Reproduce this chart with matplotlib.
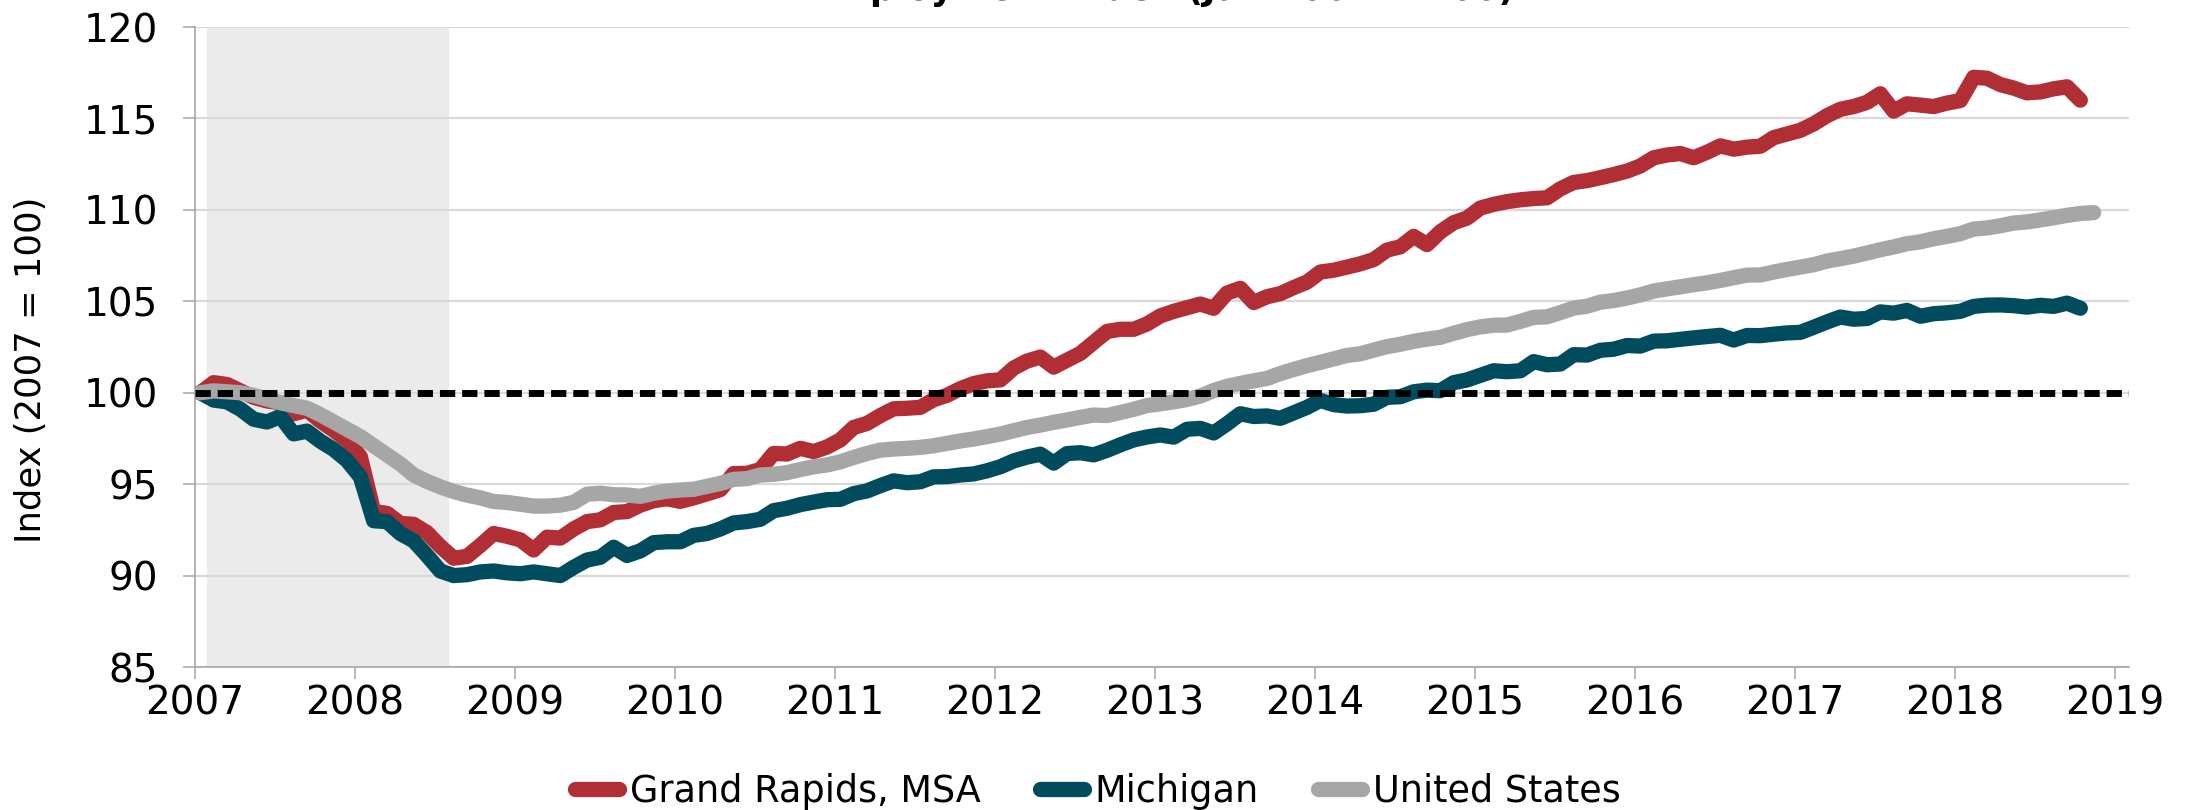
import numpy as np
import matplotlib
matplotlib.use("Agg")
import matplotlib.pyplot as plt

# Monthly index values (first month = 100)
grand_rapids = [
    100.0, 100.55, 100.45, 100.1, 99.75, 99.55, 99.45, 98.85, 99.05, 98.45,
    97.95, 97.4, 96.5, 93.5, 93.4, 92.85, 92.8, 92.35, 91.6, 90.95,
    91.05, 91.65, 92.3, 92.15, 91.95, 91.4, 92.1, 92.05, 92.55, 92.95,
    93.05, 93.45, 93.5, 93.85, 94.1, 94.2, 94.06, 94.25, 94.47, 94.7,
    95.58, 95.59, 95.8, 96.68, 96.65, 96.96, 96.78, 97.03, 97.42, 98.1,
    98.32, 98.75, 99.12, 99.15, 99.2, 99.62, 99.86, 100.22, 100.5, 100.65,
    100.7, 101.35, 101.73, 101.95, 101.4, 101.78, 102.15, 102.75,
    103.35, 103.47, 103.47, 103.76, 104.2, 104.45, 104.65, 104.85, 104.62, 105.45,
    105.71, 104.93, 105.25, 105.42, 105.75, 106.05, 106.6, 106.7, 106.87, 107.05,
    107.28, 107.8, 107.98, 108.55, 108.1, 108.8, 109.3, 109.55, 110.1, 110.3,
    110.45, 110.55, 110.62, 110.66, 111.15, 111.5, 111.6, 111.76, 111.93, 112.12,
    112.4, 112.85, 113.0, 113.08, 112.85, 113.15, 113.5, 113.32, 113.43, 113.48,
    113.95, 114.15, 114.35, 114.7, 115.15, 115.5, 115.65, 115.88, 116.35, 115.4,
    115.8, 115.73, 115.65, 115.84, 115.98, 117.25, 117.2, 116.85, 116.66, 116.4,
    116.45, 116.62, 116.73, 116.0,
]

michigan = [
    100.0, 99.6, 99.5, 99.1, 98.55, 98.4, 98.7, 97.75, 97.9, 97.35,
    96.9, 96.3, 95.4, 93.0, 92.95, 92.3, 91.9, 91.1, 90.25, 90.0,
    90.05, 90.2, 90.25, 90.15, 90.1, 90.2, 90.1, 90.0, 90.45, 90.85,
    91.0, 91.55, 91.1, 91.35, 91.8, 91.85, 91.85, 92.2, 92.3, 92.55,
    92.88, 92.95, 93.08, 93.55, 93.68, 93.88, 94.02, 94.15, 94.17, 94.48,
    94.63, 94.92, 95.18, 95.08, 95.13, 95.4, 95.41, 95.5, 95.56, 95.73,
    95.95, 96.27, 96.48, 96.64, 96.15, 96.67, 96.72, 96.6,
    96.85, 97.15, 97.42, 97.58, 97.69, 97.57, 98.0, 98.05, 97.8, 98.3,
    98.85, 98.7, 98.73, 98.6, 98.9, 99.2, 99.58, 99.35, 99.27, 99.29,
    99.37, 99.75, 99.78, 100.05, 100.14, 100.11, 100.55, 100.7, 100.95, 101.2,
    101.15, 101.2, 101.7, 101.53, 101.57, 102.08, 102.06, 102.32, 102.38, 102.58,
    102.55, 102.82, 102.84, 102.92, 103.0, 103.07, 103.14, 102.88, 103.13, 103.12,
    103.2, 103.27, 103.3, 103.58, 103.87, 104.14, 104.02, 104.06, 104.42, 104.35,
    104.5, 104.18, 104.32, 104.37, 104.45, 104.72, 104.79, 104.8, 104.76, 104.68,
    104.78, 104.72, 104.9, 104.62,
]

united_states = [
    100.0, 100.1, 100.05, 100.0, 99.85, 99.65, 99.45, 99.3, 99.15, 98.8,
    98.4, 98.0, 97.6, 97.1, 96.6, 96.1, 95.5, 95.15, 94.85, 94.6,
    94.4, 94.25, 94.05, 94.0, 93.9, 93.8, 93.8, 93.85, 94.0, 94.45,
    94.5, 94.42, 94.41, 94.33, 94.5, 94.62, 94.68, 94.72, 94.88, 95.04,
    95.26, 95.3, 95.5, 95.54, 95.63, 95.8, 95.95, 96.05, 96.22, 96.46,
    96.68, 96.86, 96.92, 96.96, 97.01, 97.1, 97.23, 97.36, 97.47, 97.6,
    97.74, 97.92, 98.1, 98.23, 98.38, 98.51, 98.65, 98.78,
    98.75, 98.92, 99.09, 99.3, 99.39, 99.5, 99.63, 99.82, 100.12, 100.35,
    100.51, 100.65, 100.78, 101.05, 101.27, 101.48, 101.66, 101.85, 102.04, 102.13,
    102.33, 102.52, 102.65, 102.81, 102.93, 103.03, 103.25, 103.45, 103.6, 103.69,
    103.7, 103.9, 104.12, 104.15, 104.38, 104.63, 104.73, 104.95, 105.04, 105.18,
    105.35, 105.56, 105.68, 105.79, 105.91, 106.01, 106.14, 106.29, 106.43, 106.44,
    106.6, 106.74, 106.87, 107.0, 107.2, 107.33, 107.47, 107.64, 107.82, 107.97,
    108.15, 108.25, 108.42, 108.55, 108.7, 108.95, 109.01, 109.13, 109.28, 109.34,
    109.45, 109.57, 109.7, 109.8, 109.85,
]

series_labels = ["Grand Rapids, MSA", "Michigan", "United States"]
year_ticks = list(range(2007, 2020))
value_ticks = [85, 90, 95, 100, 105, 110, 115, 120]
baseline = 100
recession = (2007.075, 2008.59)

colors = ["#b02e34", "#004c5e", "#a6a6a6"]


def month_x(values):
    # monthly points starting Jan 2007, placed a little into each month
    m = np.arange(len(values))
    return 2007 + (m + 0.4) / 12.0


plt.rcParams['font.family'] = ['DejaVu Sans']

fig = plt.figure(figsize=(21.96, 8.10), dpi=100)
ax = fig.add_axes([0.0888, 0.17654, 0.88069, 0.79012])

ax.axvspan(recession[0], recession[1], color="#ebebeb", lw=0, zorder=0)

lines = []
for vals, lab, col in zip([grand_rapids, michigan, united_states], series_labels, colors):
    ln, = ax.plot(month_x(vals), vals, color=col, lw=11, label=lab,
                  solid_capstyle="round", solid_joinstyle="round", zorder=3)
    lines.append(ln)

ax.axhline(baseline, color="black", lw=5, linestyle=(0, (2.2, 1.0)),
           dash_capstyle="butt", zorder=4)

ax.set_xlim(2007, 2019.0875)
ax.set_ylim(85, 120)
ax.set_xticks(year_ticks)
ax.set_yticks(value_ticks)

ax.set_axisbelow(True)
ax.yaxis.grid(True, color="#d9d9d9", linewidth=1.6)
ax.xaxis.grid(False)

for side in ["top", "right"]:
    ax.spines[side].set_visible(False)
for side in ["left", "bottom"]:
    ax.spines[side].set_color("#a6a6a6")
    ax.spines[side].set_linewidth(1.2)

ax.tick_params(axis="both", direction="out", length=8.6, width=1.1,
               color="#a6a6a6", labelsize=28)
ax.tick_params(axis="x", pad=4)
ax.tick_params(axis="y", pad=18)

fig.text(31 / 2196, 1 - 370 / 810, "Index (2007 = 100)", rotation=90,
         ha="center", va="center", fontsize=25.5)

# title sits mostly above the canvas; only its lower edge shows
fig.text(1162 / 2196, 1 - 7 / 810, "Employment Index (Jan 2007 = 100)",
         ha="center", va="bottom", fontsize=25, fontweight="bold")

fig.legend(handles=lines, loc="center", bbox_to_anchor=(0.5, 1 - 791 / 810),
           ncol=3, frameon=False, fontsize=26.4, handlelength=1.2,
           handletextpad=0.3, columnspacing=1.6, borderaxespad=0)

fig.savefig("out.png", dpi=100)
